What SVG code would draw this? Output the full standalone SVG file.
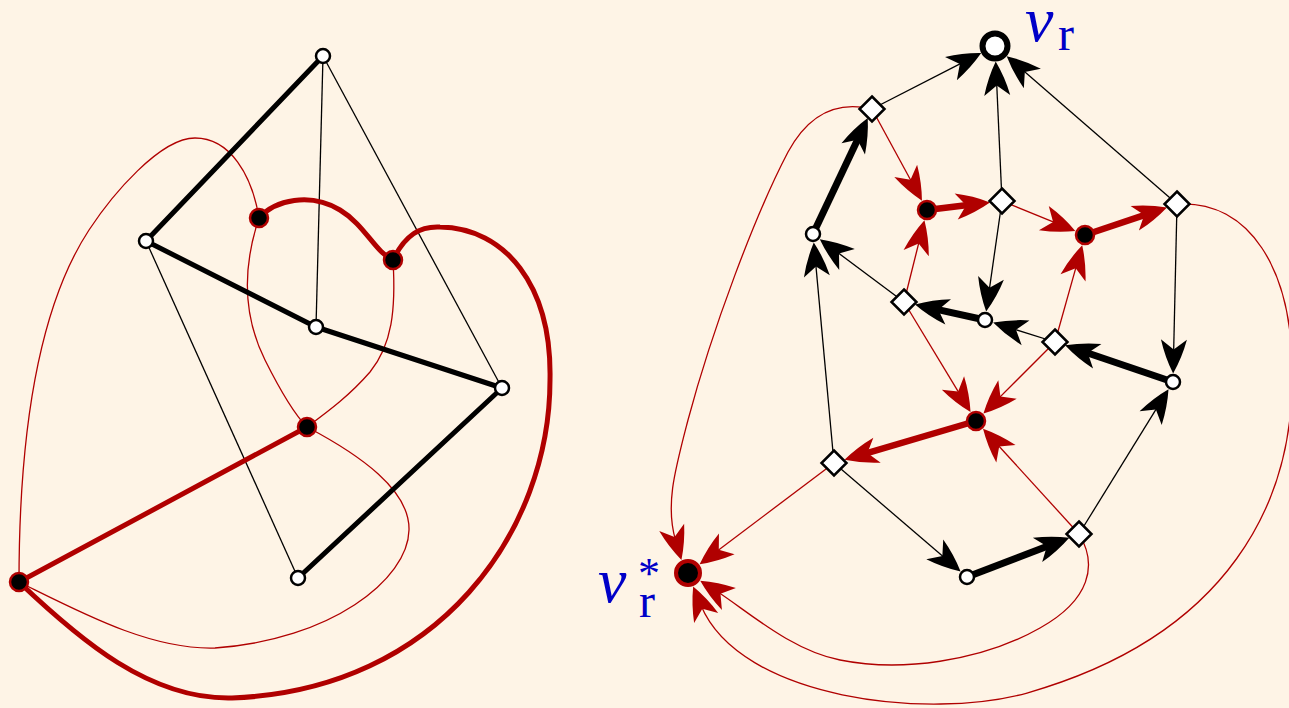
<svg xmlns="http://www.w3.org/2000/svg" width="1289" height="708" viewBox="0 0 1289 708">
<style>
.thin{stroke:#000;stroke-width:1.3;fill:none}
.thick{stroke:#000;stroke-width:5;fill:none;stroke-linecap:round}
.rthin{stroke:#b00000;stroke-width:1.3;fill:none}
.rthick{stroke:#b00000;stroke-width:5;fill:none;stroke-linecap:round}
.k6{stroke:#000;stroke-width:7;fill:none}
.r6{stroke:#b00000;stroke-width:6.5;fill:none}
.ak{marker-end:url(#ak)}
.ar{marker-end:url(#ar)}
.wn{fill:#fff;stroke:#000;stroke-width:2.5}
.rn{fill:#000;stroke:#b00000;stroke-width:2.5}
.dm{fill:#fff;stroke:#000;stroke-width:2.5;stroke-linejoin:miter}
.lbl{font-family:"Liberation Serif","DejaVu Serif",serif;fill:#0000c8}
</style>
<defs>
<marker id="ak" markerUnits="userSpaceOnUse" markerWidth="36" markerHeight="26" refX="14" refY="13" orient="auto" overflow="visible">
<path d="M0,0 Q18,4.5 34,13 Q18,21.5 0,26 L10,13 Z" fill="#000"/>
</marker>
<marker id="ar" markerUnits="userSpaceOnUse" markerWidth="36" markerHeight="26" refX="14" refY="13" orient="auto" overflow="visible">
<path d="M0,0 Q18,4.5 34,13 Q18,21.5 0,26 L10,13 Z" fill="#b00000"/>
</marker>
</defs>
<rect width="1289" height="708" fill="#fef4e6"/>

<g id="left-connectors">
<line class="thin" x1="323" y1="56" x2="316" y2="327"/>
<line class="thin" x1="323" y1="56" x2="502" y2="388"/>
<line class="thin" x1="146" y1="241" x2="298" y2="578"/>
<path class="rthin" d="M19,582 C19,470 30,320 89,230 C112,195 160,138 195,138 C230,138 252,175 259,218"/>
<path class="rthin" d="M259,218 C245,260 240,310 265,360 C280,390 295,415 307,427"/>
<path class="rthin" d="M393,260 C396,310 392,345 370,372 C350,395 330,410 307,427"/>
<path class="rthin" d="M307,427 C360,455 410,490 409,530 C408,580 330,640 215,648 C150,650 80,612 19,582"/>
<line class="thick" x1="323" y1="56" x2="146" y2="241"/>
<line class="thick" x1="146" y1="241" x2="316" y2="327"/>
<line class="thick" x1="316" y1="327" x2="502" y2="388"/>
<line class="thick" x1="502" y1="388" x2="298" y2="578"/>
<line class="rthick" x1="307" y1="427" x2="19" y2="582"/>
<path class="rthick" d="M259,218 C275,200 310,192 340,210 C365,225 375,252 393,260"/>
<path class="rthick" d="M393,260 C405,235 420,226 440,227 C505,228 552,285 550,380 C550,530 440,690 232,698 C150,700 80,640 19,582"/>
</g>

<g id="lA"><circle class="wn" cx="323" cy="56" r="7"/></g>
<g id="lB"><circle class="wn" cx="146" cy="241" r="7"/></g>
<g id="lC"><circle class="wn" cx="316" cy="327" r="7"/></g>
<g id="lD"><circle class="wn" cx="502" cy="388" r="7"/></g>
<g id="lE"><circle class="wn" cx="298" cy="578" r="7"/></g>
<g id="lR1"><circle class="rn" cx="259" cy="218" r="9"/></g>
<g id="lR2"><circle class="rn" cx="393" cy="260" r="9"/></g>
<g id="lR3"><circle class="rn" cx="307" cy="427" r="9"/></g>
<g id="lR4"><circle class="rn" cx="19" cy="582" r="9"/></g>

<g id="right-connectors">
<line class="thin ak" x1="872" y1="109" x2="963.4" y2="62.2"/>
<line class="thin ak" x1="1002" y1="201" x2="996.6" y2="81.5"/>
<line class="thin ak" x1="1177" y1="204" x2="1021.8" y2="69.3"/>
<line class="thin ak" x1="904" y1="302" x2="835.8" y2="251.1"/>
<line class="thin ak" x1="834" y1="463" x2="815.6" y2="262.4"/>
<line class="thin ak" x1="1002" y1="201" x2="989" y2="291.8"/>
<line class="thin ak" x1="1055" y1="342" x2="1012.2" y2="328.6"/>
<line class="thin ak" x1="1177" y1="204" x2="1173.6" y2="353.5"/>
<line class="thin ak" x1="1079" y1="534" x2="1158" y2="406.2"/>
<line class="thin ak" x1="834" y1="463" x2="945.4" y2="558.5"/>
<line class="rthin ar" x1="872" y1="109" x2="912.4" y2="183.2"/>
<line class="rthin ar" x1="904" y1="302" x2="919.6" y2="239.6"/>
<line class="rthin ar" x1="1002" y1="201" x2="1056.8" y2="223.4"/>
<line class="rthin ar" x1="1055" y1="342" x2="1076.8" y2="264.4"/>
<line class="rthin ar" x1="904" y1="302" x2="960.2" y2="394.9"/>
<line class="rthin ar" x1="1055" y1="342" x2="997.6" y2="399.4"/>
<line class="rthin ar" x1="1079" y1="534" x2="996.5" y2="443.5"/>
<line class="rthin ar" x1="834" y1="463" x2="715.6" y2="552.2"/>
<path class="rthin ar" d="M872,109 C835,100 808,115 788,152 C755,215 712,330 688,420 C675,470 665,505 675.7,540.8"/>
<path class="rthin ar" d="M1177,204 C1250,200 1292,270 1292,370 C1295,500 1230,635 1027,693 C930,720 740,700 700.8,605.1"/>
<path class="rthin ar" d="M1079,534 C1098,565 1090,600 1040,628 C980,662 900,672 840,660 C790,650 746.6,610.3 717.1,591.5"/>
<line class="k6 ak" x1="813" y1="234" x2="859.2" y2="136.2"/>
<line class="k6 ak" x1="985" y1="320" x2="934.5" y2="308.8"/>
<line class="k6 ak" x1="1173" y1="382" x2="1084" y2="351.8"/>
<line class="k6 ak" x1="967" y1="577" x2="1050.6" y2="544.9"/>
<line class="r6 ar" x1="927" y1="210" x2="970.1" y2="204.8"/>
<line class="r6 ar" x1="1085" y1="235" x2="1148" y2="213.8"/>
<line class="r6 ar" x1="976" y1="421" x2="863.6" y2="454.2"/>
</g>

<g id="vr"><circle cx="995" cy="46" r="12.5" fill="#fff" stroke="#000" stroke-width="6"/></g>
<g id="dm1"><path class="dm" d="M872,96.5 l12.5,12.5 l-12.5,12.5 l-12.5,-12.5 z"/></g>
<g id="dm2"><path class="dm" d="M1002,188.5 l12.5,12.5 l-12.5,12.5 l-12.5,-12.5 z"/></g>
<g id="dm3"><path class="dm" d="M1177,191.5 l12.5,12.5 l-12.5,12.5 l-12.5,-12.5 z"/></g>
<g id="dm4"><path class="dm" d="M904,289.5 l12.5,12.5 l-12.5,12.5 l-12.5,-12.5 z"/></g>
<g id="dm5"><path class="dm" d="M1055,329.5 l12.5,12.5 l-12.5,12.5 l-12.5,-12.5 z"/></g>
<g id="dm6"><path class="dm" d="M834,450.5 l12.5,12.5 l-12.5,12.5 l-12.5,-12.5 z"/></g>
<g id="dm7"><path class="dm" d="M1079,521.5 l12.5,12.5 l-12.5,12.5 l-12.5,-12.5 z"/></g>
<g id="w1"><circle class="wn" cx="813" cy="234" r="7"/></g>
<g id="w2"><circle class="wn" cx="985" cy="320" r="7"/></g>
<g id="w3"><circle class="wn" cx="1173" cy="382" r="7"/></g>
<g id="w4"><circle class="wn" cx="967" cy="577" r="7"/></g>
<g id="rd1"><circle class="rn" cx="927" cy="210" r="9"/></g>
<g id="rd2"><circle class="rn" cx="1085" cy="235" r="9"/></g>
<g id="rd3"><circle class="rn" cx="976" cy="421" r="9"/></g>
<g id="vrstar"><circle cx="688" cy="573" r="12" fill="#000" stroke="#b00000" stroke-width="4"/></g>

<g id="labels">
<text class="lbl" x="1025" y="41" font-size="64" font-style="italic">ν<tspan x="1058" y="50" font-size="48" font-style="normal">r</tspan></text>
<text class="lbl" x="598" y="602" font-size="64" font-style="italic">ν<tspan x="638" y="588" font-size="44" font-style="normal">*</tspan><tspan x="639" y="617" font-size="48" font-style="normal">r</tspan></text>
</g>
</svg>
